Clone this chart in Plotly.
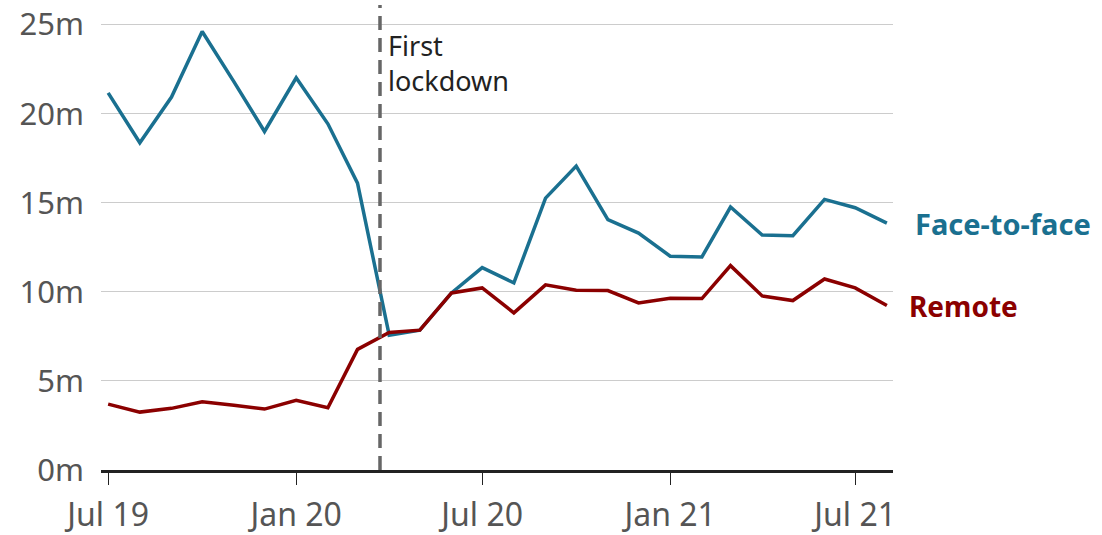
import plotly.graph_objects as go

months = ["2019-07-01", "2019-08-01", "2019-09-01", "2019-10-01", "2019-11-01", "2019-12-01",
          "2020-01-01", "2020-02-01", "2020-03-01", "2020-04-01", "2020-05-01", "2020-06-01",
          "2020-07-01", "2020-08-01", "2020-09-01", "2020-10-01", "2020-11-01", "2020-12-01",
          "2021-01-01", "2021-02-01", "2021-03-01", "2021-04-01", "2021-05-01", "2021-06-01",
          "2021-07-01", "2021-08-01"]
face_to_face = [21.17, 18.37, 20.93, 24.61, 21.8, 19.0, 22.01, 19.43, 16.1, 7.57, 7.85, 9.94,
                11.36, 10.5, 15.26, 17.06, 14.05, 13.3, 12.0, 11.96, 14.76, 13.19, 13.15, 15.19,
                14.72, 13.86]
remote = [3.70, 3.25, 3.46, 3.83, 3.63, 3.42, 3.91, 3.49, 6.77, 7.72, 7.85, 9.94,
          10.22, 8.82, 10.39, 10.09, 10.07, 9.38, 9.64, 9.62, 11.47, 9.77, 9.51, 10.72,
          10.22, 9.23]
x_tick_vals = ["2019-07-01", "2020-01-01", "2020-07-01", "2021-01-01", "2021-07-01"]
x_tick_text = ["Jul 19", "Jan 20", "Jul 20", "Jan 21", "Jul 21"]
y_tick_vals = [0, 5, 10, 15, 20, 25]
y_tick_text = ["0m", "5m", "10m", "15m", "20m", "25m"]
lockdown_date = "2020-03-23"

BLUE = "#1a7090"
RED = "#8b0000"
FONT = "Noto Sans"

fig = go.Figure()
fig.add_trace(go.Scatter(x=months, y=face_to_face, mode="lines", name="Face-to-face",
                         line=dict(color=BLUE, width=3.5)))
fig.add_trace(go.Scatter(x=months, y=remote, mode="lines", name="Remote",
                         line=dict(color=RED, width=3.5)))

fig.add_shape(type="line", xref="x", yref="paper", x0=lockdown_date, x1=lockdown_date,
              y0=0, y1=1, line=dict(color="#666666", width=3.5, dash="14px,8px"))

fig.add_annotation(x=lockdown_date, y=1, xref="x", yref="paper", text="First<br>lockdown",
                   xanchor="left", yanchor="top", align="left", xshift=6, yshift=-20,
                   showarrow=False,
                   font=dict(family=FONT, size=27, color="#222222"))

fig.add_annotation(x=months[-1], y=face_to_face[-1], text="<b>Face-to-face</b>",
                   xanchor="left", yanchor="middle", xshift=26, showarrow=False,
                   font=dict(family=FONT, size=29, color=BLUE))
fig.add_annotation(x=months[-1], y=remote[-1], text="<b>Remote</b>",
                   xanchor="left", yanchor="middle", xshift=20, showarrow=False,
                   font=dict(family=FONT, size=28, color=RED))

fig.update_layout(
    width=1102, height=535,
    margin=dict(l=101, r=209, t=5, b=65),
    paper_bgcolor="white", plot_bgcolor="white",
    showlegend=False,
    font=dict(family=FONT, color="#555555"),
    xaxis=dict(type="date", range=["2019-06-24", "2021-08-07"],
               tickvals=x_tick_vals, ticktext=x_tick_text,
               showgrid=False, zeroline=False, automargin=False,
               showline=True, linecolor="#222222", linewidth=3,
               ticks="outside", ticklen=12, tickwidth=1, tickcolor="#222222",
               ticklabelstandoff=3,
               tickfont=dict(family=FONT, size=32, color="#555555")),
    yaxis=dict(range=[0, 26.1], tickvals=y_tick_vals, ticktext=y_tick_text,
               showgrid=True, gridcolor="#cccccc", gridwidth=1,
               zeroline=False, showline=False, ticks="", automargin=False,
               ticklabelstandoff=16,
               tickfont=dict(family=FONT, size=31, color="#555555")),
)

fig.write_html("out.html", config={"displayModeBar": False},
               post_script="document.body.style.margin='0';document.body.style.overflow='hidden';")
